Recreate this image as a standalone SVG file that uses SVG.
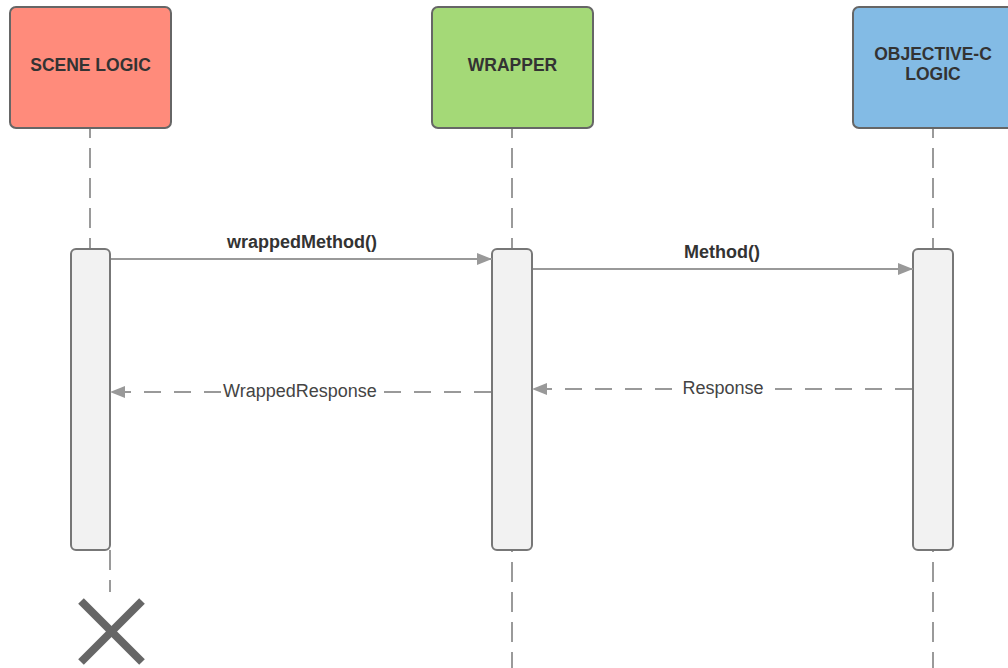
<svg xmlns="http://www.w3.org/2000/svg" width="1008" height="668" viewBox="0 0 1008 668">
  <style>
    .head { stroke: #666666; stroke-width: 2; }
    .head-label { font-family: "Liberation Sans", Arial, sans-serif; font-weight: bold; font-size: 17.5px; fill: #333333; text-anchor: middle; }
    .life { stroke: #9a9a9a; stroke-width: 2; stroke-dasharray: 20 10; fill: none; }
    .act { fill: #f2f2f2; stroke: #777777; stroke-width: 2; }
    .call { stroke: #999999; stroke-width: 2; fill: none; }
    .reply { stroke: #999999; stroke-width: 2; fill: none; stroke-dasharray: 17 13; }
    .call-label { font-family: "Liberation Sans", Arial, sans-serif; font-weight: bold; font-size: 18px; fill: #333333; text-anchor: middle; }
    .reply-label { font-family: "Liberation Sans", Arial, sans-serif; font-size: 18px; fill: #444444; text-anchor: middle; }
    .destroy { stroke: #666666; stroke-width: 8; }
  </style>
  <defs>
    <marker id="arrow" viewBox="0 0 15 12" refX="15" refY="6" markerWidth="15" markerHeight="12" markerUnits="userSpaceOnUse" orient="auto">
      <path d="M0,0 L15,6 L0,12 Z" fill="#999999"/>
    </marker>
  </defs>

  <rect width="1008" height="668" fill="#ffffff"/>

  <!-- lifelines -->
  <g id="lifelines">
    <line class="life" x1="90" y1="128" x2="90" y2="249" stroke-dashoffset="10"/>
    <line class="life" x1="110" y1="550" x2="110" y2="592"/>
    <line class="life" x1="512" y1="128" x2="512" y2="249" stroke-dashoffset="10"/>
    <line class="life" x1="512" y1="550" x2="512" y2="668" stroke-dashoffset="18"/>
    <line class="life" x1="933" y1="128" x2="933" y2="249" stroke-dashoffset="10"/>
    <line class="life" x1="933" y1="550" x2="933" y2="668" stroke-dashoffset="18"/>
  </g>

  <!-- participants -->
  <g id="scene-logic">
    <rect class="head" x="10" y="7" width="161" height="121" rx="6" fill="#ff8b7b"/>
    <text class="head-label" x="90.5" y="71">SCENE LOGIC</text>
    <rect class="act" x="71" y="249" width="39" height="301" rx="5"/>
  </g>

  <g id="wrapper">
    <rect class="head" x="432" y="7" width="161" height="121" rx="6" fill="#a4d977"/>
    <text class="head-label" x="512.5" y="71">WRAPPER</text>
    <rect class="act" x="492" y="249" width="40" height="301" rx="5"/>
  </g>

  <g id="objc-logic">
    <rect class="head" x="853" y="7" width="165" height="121" rx="6" fill="#83bbe5"/>
    <text class="head-label" x="933" y="60">OBJECTIVE-C</text>
    <text class="head-label" x="933" y="80">LOGIC</text>
    <rect class="act" x="913" y="249" width="40" height="301" rx="5"/>
  </g>

  <!-- messages -->
  <g id="connectors">
    <line class="call" x1="111" y1="259" x2="492" y2="259" marker-end="url(#arrow)"/>
    <text class="call-label" x="302" y="248">wrappedMethod()</text>

    <line class="call" x1="533" y1="269" x2="913" y2="269" marker-end="url(#arrow)"/>
    <text class="call-label" x="722" y="258">Method()</text>

    <line class="reply" x1="491" y1="392" x2="110" y2="392" marker-end="url(#arrow)"/>
    <rect x="227" y="380" width="146" height="22" fill="#ffffff"/>
    <text class="reply-label" x="300" y="397">WrappedResponse</text>

    <line class="reply" x1="912" y1="389" x2="532" y2="389" marker-end="url(#arrow)"/>
    <rect x="685" y="377" width="76" height="22" fill="#ffffff"/>
    <text class="reply-label" x="723" y="394">Response</text>
  </g>

  <!-- end of scene logic lifeline -->
  <g id="destroy">
    <line class="destroy" x1="81" y1="601" x2="142" y2="662"/>
    <line class="destroy" x1="142" y1="601" x2="81" y2="662"/>
  </g>
</svg>
